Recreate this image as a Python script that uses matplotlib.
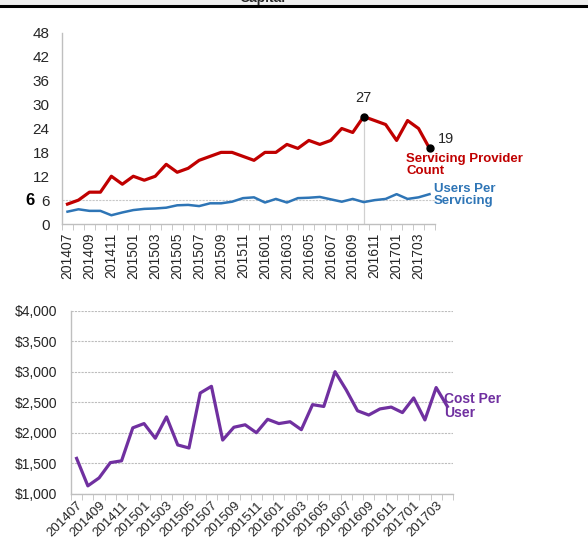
import numpy as np
import matplotlib.pyplot as plt
from matplotlib.patches import Rectangle
from matplotlib.ticker import FuncFormatter, MultipleLocator

plt.rcParams['font.family'] = ['Liberation Sans', 'DejaVu Sans']

months = ["201407", "201408", "201409", "201410", "201411", "201412",
          "201501", "201502", "201503", "201504", "201505", "201506",
          "201507", "201508", "201509", "201510", "201511", "201512",
          "201601", "201602", "201603", "201604", "201605", "201606",
          "201607", "201608", "201609", "201610", "201611", "201612",
          "201701", "201702", "201703", "201704"]
provider_count = [5, 6, 8, 8, 12, 10, 12, 11, 12, 15, 13, 14, 16, 17, 18, 18, 17,
                  16, 18, 18, 20, 19, 21, 20, 21, 24, 23, 27, 26, 25, 21, 26, 24, 19]
users_per_servicing = [3.1, 3.7, 3.3, 3.3, 2.2, 2.9, 3.5, 3.8, 3.9, 4.1, 4.7, 4.8,
                       4.5, 5.2, 5.2, 5.6, 6.5, 6.7, 5.4, 6.3, 5.4, 6.5, 6.6, 6.8,
                       6.2, 5.6, 6.3, 5.5, 6.0, 6.3, 7.5, 6.3, 6.7, 7.5]
cost_per_user = [1580, 1130, 1260, 1510, 1540, 2080, 2150, 1910, 2260, 1800, 1750,
                 2650, 2760, 1880, 2090, 2130, 2000, 2220, 2150, 2180, 2050, 2460,
                 2430, 3000, 2700, 2360, 2290, 2390, 2420, 2330, 2570, 2210, 2740, 2430]
target_users = 6

red = "#C00000"
blue = "#2E75B6"
purple = "#7030A0"
axis_gray = "#BFBFBF"
text_gray = "#262626"

x = np.arange(len(months))

fig = plt.figure(figsize=(5.88, 5.51), dpi=100)

# slide header strip, title runs off the top edge
fig.patches.append(Rectangle((0, 1 - 5 / 551), 1, 5 / 551, transform=fig.transFigure,
                             facecolor="#EFEFEF", edgecolor="none"))
fig.add_artist(plt.Line2D([0, 1], [1 - 6 / 551, 1 - 6 / 551], transform=fig.transFigure,
                          color="black", lw=2.2))
fig.text(0.447, 1 + 2 / 551, "Capital", ha="center", va="center", fontsize=10,
         fontweight="bold", color=text_gray)


def style_axes(ax):
    for side in ["top", "right"]:
        ax.spines[side].set_visible(False)
    for side in ["left", "bottom"]:
        ax.spines[side].set_color(axis_gray)
        ax.spines[side].set_linewidth(1.0)
    ax.set_xlim(-0.5, len(months) - 0.5)
    ax.set_xticks(x[::2])
    ax.set_xticks(np.arange(-0.5, len(months)), minor=True)
    ax.tick_params(axis="x", which="major", length=0, pad=6)
    ax.tick_params(axis="x", which="minor", length=4, color=axis_gray, direction="out")
    ax.tick_params(axis="y", length=0, labelcolor=text_gray)
    ax.tick_params(axis="x", labelcolor=text_gray)


# --- top: servicing providers and users per servicing
ax1 = fig.add_axes([62 / 588, 1 - 224 / 551, 373 / 588, 191 / 551])
style_axes(ax1)
ax1.set_ylim(0, 48)
ax1.yaxis.set_major_locator(MultipleLocator(6))
ax1.tick_params(axis="y", labelsize=11, pad=9)
ax1.set_xticklabels(months[::2], rotation=90, fontsize=10)

peak = int(np.argmax(provider_count))
ax1.axhline(target_users, color="#C8C8C8", lw=0.8, ls=(0, (2, 1)), zorder=1)
ax1.plot([peak, peak], [0, provider_count[peak]], color="#D0D0D0", lw=0.9, zorder=1)

ax1.plot(x, provider_count, color=red, lw=2.3, zorder=3)
ax1.plot(x, users_per_servicing, color=blue, lw=1.8, zorder=3)
ax1.plot([peak, x[-1]], [provider_count[peak], provider_count[-1]], "o",
         color="black", ms=5, zorder=4)
ax1.annotate(str(provider_count[peak]), (peak, provider_count[peak]), xytext=(0, 8),
             textcoords="offset points", ha="center", va="bottom", fontsize=10.5,
             color=text_gray)
ax1.annotate(str(provider_count[-1]), (x[-1], provider_count[-1]), xytext=(6, 2),
             textcoords="offset points", ha="left", va="bottom", fontsize=10.5,
             color=text_gray)
ax1.text(30.9, 14.9, "Servicing Provider\nCount", color=red, fontsize=9.5,
         fontweight="bold", ha="left", va="center", linespacing=1.0)
ax1.text(33.4, 7.3, "Users Per\nServicing", color=blue, fontsize=9.5,
         fontweight="bold", ha="left", va="center", linespacing=1.0)
ax1.text(-0.085, target_users, str(target_users), transform=ax1.get_yaxis_transform(),
         ha="center", va="center", fontsize=12, fontweight="bold", color="black")

# --- bottom: cost per user
ax2 = fig.add_axes([71 / 588, 1 - 493.8 / 551, 382 / 588, 183.2 / 551])
style_axes(ax2)
ax2.set_ylim(1000, 4000)
ax2.yaxis.set_major_locator(MultipleLocator(500))
ax2.yaxis.set_major_formatter(FuncFormatter(lambda v, p: f"${v:,.0f}"))
ax2.tick_params(axis="y", labelsize=10, pad=10)
ax2.grid(axis="y", color="#BDBDBD", lw=0.8, ls=(0, (2, 1)))
ax2.set_axisbelow(True)
ax2.set_xticklabels(months[::2], rotation=45, ha="right", rotation_mode="anchor",
                    fontsize=9.5)
ax2.tick_params(axis="x", which="major", pad=4)

ax2.plot(x, cost_per_user, color=purple, lw=2.3, zorder=3)
ax2.text(32.7, 2430, "Cost Per\nUser", color=purple, fontsize=10,
         fontweight="bold", ha="left", va="center", linespacing=1.0)

fig.savefig("out.png", dpi=100, facecolor="white")
